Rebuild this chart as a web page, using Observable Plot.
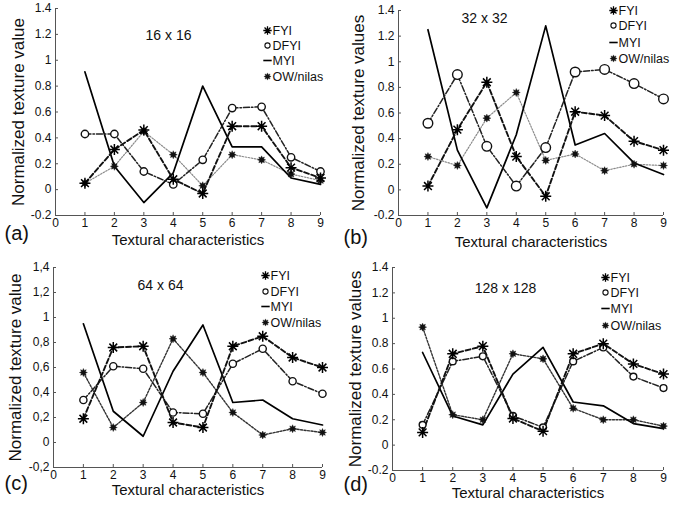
<!DOCTYPE html>
<html><head><meta charset="utf-8">
<script src="https://cdn.jsdelivr.net/npm/d3@7"></script>
<script src="https://cdn.jsdelivr.net/npm/@observablehq/plot@0.6"></script>
<style>
body{margin:0;background:#fff;}
#wrap{position:relative;width:681px;height:509px;overflow:hidden;background:#fff;font-family:"Liberation Sans",Arial,sans-serif;}
.panel{position:absolute;}
.panel svg{overflow:visible;}
</style></head><body><div id="wrap"></div>
<script>
// ---- data ----
const features = [1, 2, 3, 4, 5, 6, 7, 8, 9];
const seriesNames = ["FYI", "DFYI", "MYI", "OW/nilas"];
const xTicks = [0, 1, 2, 3, 4, 5, 6, 7, 8, 9];
const yTicks = [-0.2, 0, 0.2, 0.4, 0.6, 0.8, 1, 1.2, 1.4];
const panelTitles = ["16 x 16", "32 x 32", "64 x 64", "128 x 128"];
const panelLetters = ["(a)", "(b)", "(c)", "(d)"];
const yLabels = ["Normalized texture value", "Normalized texture values", "Normalized texture value", "Normalized texture values"];
const xLabel = "Textural characteristics";

const fyi16  = [0.05, 0.31, 0.46, 0.08, -0.03, 0.49, 0.49, 0.17, 0.09];
const dfyi16 = [0.43, 0.43, 0.14, 0.04, 0.23, 0.63, 0.64, 0.25, 0.14];
const myi16  = [0.91, 0.18, -0.10, 0.13, 0.80, 0.33, 0.33, 0.09, 0.04];
const ow16   = [0.05, 0.18, 0.45, 0.27, 0.03, 0.27, 0.23, 0.12, 0.07];

const fyi32  = [0.03, 0.47, 0.84, 0.26, -0.05, 0.61, 0.58, 0.38, 0.31];
const dfyi32 = [0.52, 0.90, 0.34, 0.03, 0.33, 0.92, 0.94, 0.83, 0.71];
const myi32  = [1.25, 0.31, -0.14, 0.43, 1.28, 0.35, 0.44, 0.21, 0.12];
const ow32   = [0.26, 0.19, 0.56, 0.76, 0.23, 0.28, 0.15, 0.20, 0.19];

const fyi64  = [0.19, 0.76, 0.77, 0.16, 0.12, 0.77, 0.85, 0.68, 0.60];
const dfyi64 = [0.34, 0.61, 0.59, 0.24, 0.23, 0.63, 0.75, 0.49, 0.39];
const myi64  = [0.95, 0.25, 0.05, 0.57, 0.94, 0.32, 0.34, 0.19, 0.14];
const ow64   = [0.56, 0.12, 0.32, 0.83, 0.56, 0.24, 0.06, 0.11, 0.08];

const fyi128  = [0.10, 0.72, 0.78, 0.21, 0.11, 0.72, 0.80, 0.64, 0.56];
const dfyi128 = [0.16, 0.66, 0.70, 0.23, 0.14, 0.66, 0.77, 0.54, 0.45];
const myi128  = [0.73, 0.23, 0.16, 0.56, 0.77, 0.34, 0.31, 0.17, 0.13];
const ow128   = [0.93, 0.24, 0.20, 0.72, 0.68, 0.29, 0.20, 0.20, 0.15];

const panelValues = [
  [fyi16, dfyi16, myi16, ow16],
  [fyi32, dfyi32, myi32, ow32],
  [fyi64, dfyi64, myi64, ow64],
  [fyi128, dfyi128, myi128, ow128]
];
const decimalMarks = [".", ".", ",", "."];

// ---- symbols ----
const rOf = size => Math.sqrt(size / Math.PI);
const asterisk8 = {draw(ctx, size) {
  const r = rOf(size);
  for (let k = 0; k < 4; k++) {
    const a = k * Math.PI / 4, c = Math.cos(a) * r, s = Math.sin(a) * r;
    ctx.moveTo(c, s); ctx.lineTo(-c, -s);
  }
}};
const star8 = {draw(ctx, size) {
  const r = rOf(size), ri = r * 0.55;
  for (let k = 0; k < 16; k++) {
    const a = k * Math.PI / 8, rr = k % 2 ? ri : r;
    const px = rr * Math.cos(a), py = rr * Math.sin(a);
    if (k) ctx.lineTo(px, py); else ctx.moveTo(px, py);
  }
  ctx.closePath();
}};
const hline = {draw(ctx, size) {
  const r = rOf(size);
  ctx.moveTo(-r, 0); ctx.lineTo(r, 0);
}};

// ---- layout / styles ----
const layouts = [
  {left: 0,   top: 0,   width: 340, height: 250, ml: 55, mr: 20, mt: 8,  mb: 35,
   title: [113, 27], legend: {dx: 212, dy: [22, 37, 52, 68]}, letter: [-51, 18], xl: 25, yl: -37,
   rF: 5.5, rC: 3.7, rO: 4, owStroke: "#8a8a8a", owDash: "1.5,1.5", owW: 1.2},
  {left: 340, top: 0,   width: 341, height: 250, ml: 58, mr: 18, mt: 10, mb: 35,
   title: [86, 8], legend: {dx: 215, dy: [0, 15, 32, 48]}, letter: [-55, 22], xl: 27, yl: -40,
   rF: 5.5, rC: 4.8, rO: 4, owStroke: "#8a8a8a", owDash: "1.5,1.5", owW: 1.2},
  {left: 0,   top: 250, width: 340, height: 259, ml: 53, mr: 18, mt: 17, mb: 42,
   title: [107, 18], legend: {dx: 212, dy: [8, 24, 39, 55]}, letter: [-49, 16], xl: 23, yl: -38,
   rF: 5.5, rC: 3.6, rO: 4, owStroke: "#333", owDash: "2,1.5", owW: 1.4},
  {left: 340, top: 250, width: 341, height: 259, ml: 52, mr: 18, mt: 17, mb: 39,
   title: [113, 21], legend: {dx: 213, dy: [10, 25, 41, 58]}, letter: [-49, 14], xl: 23, yl: -37,
   rF: 5.5, rC: 3.4, rO: 4, owStroke: "#333", owDash: "2,1.5", owW: 1.4}
];

const wrap = document.getElementById("wrap");

panelValues.forEach((vals, p) => {
  const L = layouts[p];
  const table = [];
  seriesNames.forEach((name, s) => {
    features.forEach((f, i) => table.push({series: name, x: f, y: vals[s][i]}));
  });
  const of = name => table.filter(d => d.series === name);
  const fmt = d => String(Math.round(d * 10) / 10).replace(".", decimalMarks[p]);

  const lineStyle = {
    "FYI": {stroke: "#111", strokeWidth: 1.9, strokeDasharray: "5,2.5"},
    "DFYI": {stroke: "#222", strokeWidth: 1.5, strokeDasharray: "6,2,1.5,2"},
    "MYI": {stroke: "#000", strokeWidth: 1.7},
    "OW/nilas": {stroke: L.owStroke, strokeWidth: L.owW, strokeDasharray: L.owDash}
  };
  const dotStyle = {
    "FYI": {symbol: asterisk8, r: L.rF, stroke: "#000", strokeWidth: 1.5, fill: "none"},
    "DFYI": {symbol: "circle", r: L.rC, stroke: "#111", strokeWidth: 1.4, fill: "white"},
    "OW/nilas": {symbol: star8, r: L.rO, fill: "#111", stroke: "#111", strokeWidth: 0.4}
  };
  const legendDot = {
    "FYI": {symbol: asterisk8, r: 4.2, stroke: "#000", strokeWidth: 1.3, fill: "none"},
    "DFYI": {symbol: "circle", r: 2.6, stroke: "#111", strokeWidth: 1.1, fill: "white"},
    "MYI": {symbol: hline, r: 4.2, stroke: "#000", strokeWidth: 1.6, fill: "none"},
    "OW/nilas": {symbol: star8, r: 3.6, fill: "#111", stroke: "#111", strokeWidth: 0.4}
  };

  const marks = [
    Plot.ruleY([-0.2], {stroke: "#555", strokeWidth: 1}),
    Plot.ruleX([0], {stroke: "#555", strokeWidth: 1}),
    Plot.axisX({ticks: xTicks, tickSize: -3, tickPadding: 6, tickFormat: d => String(d), label: null,
      fontSize: 12, color: "#111", stroke: "#555"}),
    Plot.axisY({ticks: yTicks, tickSize: -3, tickPadding: 7, tickFormat: fmt, label: null,
      fontSize: 12, color: "#111", stroke: "#555"})
  ];
  // draw order: OW (behind), MYI, DFYI, FYI
  ["OW/nilas", "MYI", "DFYI", "FYI"].forEach(name => {
    marks.push(Plot.line(of(name), {x: "x", y: "y", ...lineStyle[name]}));
  });
  ["OW/nilas", "DFYI", "FYI"].forEach(name => {
    marks.push(Plot.dot(of(name), {x: "x", y: "y", ...dotStyle[name]}));
  });
  // legend
  seriesNames.forEach((name, i) => {
    marks.push(Plot.dot([name], {frameAnchor: "top-left", dx: L.legend.dx, dy: L.legend.dy[i], ...legendDot[name]}));
    marks.push(Plot.text([name], {text: d => d, frameAnchor: "top-left", dx: L.legend.dx + 5, dy: L.legend.dy[i],
      textAnchor: "start", lineAnchor: "middle", fontSize: 12.5, fill: "#111"}));
  });
  // title, axis labels, panel letter
  marks.push(Plot.text([panelTitles[p]], {text: d => d, frameAnchor: "top-left", dx: L.title[0], dy: L.title[1],
    textAnchor: "middle", lineAnchor: "middle", fontSize: 14, fill: "#111"}));
  marks.push(Plot.text([xLabel], {text: d => d, frameAnchor: "bottom", dy: L.xl, lineAnchor: "middle",
    fontSize: 15, fill: "#111"}));
  marks.push(Plot.text([yLabels[p]], {text: d => d, frameAnchor: "left", dx: L.yl, rotate: -90,
    textAnchor: "middle", lineAnchor: "middle", fontSize: 17, fill: "#111"}));
  marks.push(Plot.text([panelLetters[p]], {text: d => d, frameAnchor: "bottom-left", dx: L.letter[0], dy: L.letter[1],
    textAnchor: "start", lineAnchor: "middle", fontSize: 20, fill: "#111"}));

  const chart = Plot.plot({
    width: L.width, height: L.height,
    marginLeft: L.ml, marginRight: L.mr, marginTop: L.mt, marginBottom: L.mb,
    x: {domain: [0, 9]},
    y: {domain: [-0.2, 1.4]},
    style: {fontFamily: "'Liberation Sans', Arial, sans-serif", background: "transparent", overflow: "visible"},
    marks
  });
  const div = document.createElement("div");
  div.className = "panel";
  div.style.left = L.left + "px";
  div.style.top = L.top + "px";
  div.appendChild(chart);
  wrap.appendChild(div);
});
</script>
</body></html>
